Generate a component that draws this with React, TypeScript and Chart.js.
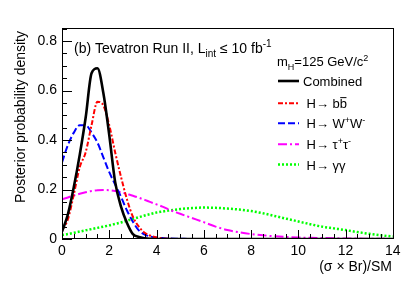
import React, { useEffect, useRef } from "react";
import { Chart, registerables } from "chart.js";

Chart.register(...registerables);

// ---- data ----
const X_GRID = [
  0, 0.25, 0.5, 0.75, 1, 1.25, 1.5, 1.75, 2, 2.25, 2.5, 2.75, 3, 3.25, 3.5, 3.75, 4, 4.25, 4.5,
  5, 5.5, 6, 6.5, 7, 7.5, 8, 8.5, 9, 9.5, 10, 10.5, 11, 11.5, 12, 12.5, 13, 13.5, 14,
];
const COMBINED = [
  0.03, 0.1, 0.21, 0.34, 0.49, 0.67, 0.69, 0.59, 0.42, 0.23, 0.13, 0.065, 0.02, 0.008, 0.003, 0.001, 0, 0, 0,
  0, 0, 0, 0, 0, 0, 0, 0, 0, 0, 0, 0, 0, 0, 0, 0, 0, 0, 0,
];
const H_BB = [
  0.035, 0.08, 0.18, 0.29, 0.35, 0.46, 0.555, 0.54, 0.46, 0.35, 0.25, 0.16, 0.09, 0.05, 0.025, 0.013, 0.006, 0.003, 0.001,
  0, 0, 0, 0, 0, 0, 0, 0, 0, 0, 0, 0, 0, 0, 0, 0, 0, 0, 0,
];
const H_WW = [
  0.31, 0.38, 0.43, 0.46, 0.46, 0.43, 0.39, 0.33, 0.27, 0.22, 0.17, 0.115, 0.07, 0.035, 0.018, 0.01, 0.006, 0.004, 0.002,
  0.001, 0, 0, 0, 0, 0, 0, 0, 0, 0, 0, 0, 0, 0, 0, 0, 0, 0, 0,
];
const H_TAUTAU = [
  0.16, 0.168, 0.176, 0.183, 0.189, 0.194, 0.197, 0.198, 0.197, 0.194, 0.189, 0.182, 0.175, 0.167, 0.158, 0.149, 0.14, 0.131, 0.12,
  0.102, 0.085, 0.068, 0.05, 0.036, 0.027, 0.02, 0.015, 0.011, 0.008, 0.006, 0.005, 0.004, 0.003, 0.002, 0.002, 0.001, 0.001, 0,
];
const H_GAMGAM = [
  0.016, 0.02, 0.025, 0.03, 0.035, 0.04, 0.045, 0.05, 0.055, 0.061, 0.067, 0.074, 0.081, 0.088, 0.095, 0.101, 0.107, 0.111, 0.115,
  0.121, 0.125, 0.127, 0.126, 0.123, 0.119, 0.113, 0.104, 0.093, 0.082, 0.071, 0.06, 0.05, 0.043, 0.036, 0.028, 0.021, 0.015, 0.01,
];
const X_TICKS = [0, 2, 4, 6, 8, 10, 12, 14];
const Y_TICKS = [0, 0.2, 0.4, 0.6, 0.8];

const FONT = '"Liberation Sans", Arial, Helvetica, sans-serif';

type Part = { t: string; m?: "sub" | "sup"; over?: boolean };

function drawRich(ctx: CanvasRenderingContext2D, x: number, y: number, parts: Part[], size: number) {
  ctx.textBaseline = "alphabetic";
  ctx.textAlign = "left";
  for (const p of parts) {
    const s = p.m ? Math.round(size * 0.68) : size;
    const dy = p.m === "sub" ? size * 0.3 : p.m === "sup" ? -size * 0.42 : 0;
    ctx.font = `${s}px ${FONT}`;
    ctx.fillText(p.t, x, y + dy);
    const w = ctx.measureText(p.t).width;
    if (p.over) {
      ctx.save();
      ctx.lineWidth = 1;
      ctx.beginPath();
      ctx.moveTo(x + 0.5, y - size * 0.82);
      ctx.lineTo(x + w - 0.5, y - size * 0.82);
      ctx.stroke();
      ctx.restore();
    }
    x += w;
  }
}

const decorPlugin = {
  id: "decor",
  afterDraw(chart: any) {
    const { ctx, chartArea: a, scales } = chart;
    const xs = scales.x;
    const ys = scales.y;
    ctx.save();
    ctx.strokeStyle = "#000";
    ctx.fillStyle = "#000";
    ctx.lineWidth = 1;
    // frame
    ctx.strokeRect(a.left + 0.5, a.top + 0.5, a.right - a.left - 1, a.bottom - a.top - 1);
    // x ticks (inside)
    ctx.beginPath();
    for (let i = 0; i < X_TICKS.length; i++) {
      const v = X_TICKS[i];
      const px = Math.round(xs.getPixelForValue(v)) + 0.5;
      ctx.moveTo(px, a.bottom);
      ctx.lineTo(px, a.bottom - 9);
      if (i < X_TICKS.length - 1) {
        const step = (X_TICKS[i + 1] - v) / 4;
        for (let k = 1; k < 4; k++) {
          const mx = Math.round(xs.getPixelForValue(v + k * step)) + 0.5;
          ctx.moveTo(mx, a.bottom);
          ctx.lineTo(mx, a.bottom - 5);
        }
      }
    }
    // y ticks (inside)
    const ystep = (Y_TICKS[1] - Y_TICKS[0]) / 4;
    for (let v = 0; v <= ys.max + 1e-9; v += ystep) {
      const py = Math.round(ys.getPixelForValue(v)) + 0.5;
      const major = Math.abs(v / (ystep * 4) - Math.round(v / (ystep * 4))) < 1e-6;
      ctx.moveTo(a.left, py);
      ctx.lineTo(a.left + (major ? 10 : 5), py);
    }
    ctx.stroke();

    // axis titles
    ctx.font = `14px ${FONT}`;
    ctx.textAlign = "right";
    ctx.textBaseline = "alphabetic";
    ctx.fillText("(\u03C3 \u00D7 Br)/SM", a.right - 2, 271);
    ctx.save();
    ctx.translate(25, a.top + 3);
    ctx.rotate(-Math.PI / 2);
    ctx.textAlign = "right";
    ctx.fillText("Posterior probability density", 0, 0);
    ctx.restore();

    // header
    drawRich(ctx, 74, 52.5, [
      { t: "(b) Tevatron Run II, L" },
      { t: "int", m: "sub" },
      { t: " \u2264 10 fb" },
      { t: "-1", m: "sup" },
    ], 14);

    // legend
    drawRich(ctx, 277, 66, [
      { t: "m" },
      { t: "H", m: "sub" },
      { t: "=125 GeV/c" },
      { t: "2", m: "sup" },
    ], 13);

    const rows: { y: number; parts: Part[]; tx: number }[] = [
      { y: 81, tx: 303, parts: [{ t: "Combined" }] },
      { y: 103.3, tx: 306.5, parts: [{ t: "H" }, { t: "\u2192 b" }, { t: "b", over: true }] },
      { y: 123.3, tx: 306.5, parts: [{ t: "H" }, { t: "\u2192 W" }, { t: "+", m: "sup" }, { t: "W" }, { t: "-", m: "sup" }] },
      { y: 144.3, tx: 306.5, parts: [{ t: "H" }, { t: "\u2192 \u03C4" }, { t: "+", m: "sup" }, { t: "\u03C4" }, { t: "-", m: "sup" }] },
      { y: 164.5, tx: 306.5, parts: [{ t: "H" }, { t: "\u2192 \u03B3\u03B3" }] },
    ];
    rows.forEach((r, i) => {
      const ds = chart.data.datasets[i];
      ctx.save();
      ctx.strokeStyle = ds.borderColor;
      ctx.lineWidth = ds.borderWidth;
      ctx.setLineDash(ds.borderDash || []);
      ctx.beginPath();
      ctx.moveTo(278, r.y);
      ctx.lineTo(299, r.y);
      ctx.stroke();
      ctx.restore();
      drawRich(ctx, r.tx, r.y + 5, r.parts, 13);
    });
    ctx.restore();
  },
};

function pts(ys: number[]) {
  return X_GRID.map((x, i) => ({ x, y: ys[i] }));
}

export default function App() {
  const ref = useRef<HTMLCanvasElement>(null);
  useEffect(() => {
    if (!ref.current) return;
    const chart = new Chart(ref.current, {
      type: "line",
      data: {
        datasets: [
          { label: "Combined", data: pts(COMBINED), borderColor: "#000000", borderWidth: 2.6, borderDash: [] },
          { label: "H→bb", data: pts(H_BB), borderColor: "#ff0000", borderWidth: 2, borderDash: [5, 2, 2, 2] },
          { label: "H→WW", data: pts(H_WW), borderColor: "#0000ff", borderWidth: 2, borderDash: [7, 3] },
          { label: "H→ττ", data: pts(H_TAUTAU), borderColor: "#ff00ff", borderWidth: 2, borderDash: [9, 3, 2, 3] },
          { label: "H→γγ", data: pts(H_GAMGAM), borderColor: "#00ff00", borderWidth: 2.5, borderDash: [2, 2] },
        ] as any,
      },
      options: {
        animation: false,
        responsive: false,
        devicePixelRatio: 1,
        layout: { padding: { left: 0, right: 21, top: 28, bottom: 0 } },
        elements: { point: { radius: 0 }, line: { cubicInterpolationMode: "monotone", fill: false } },
        plugins: { legend: { display: false }, tooltip: { enabled: false }, title: { display: false } },
        scales: {
          x: {
            type: "linear",
            min: 0,
            max: 14.05,
            grid: { display: false, drawTicks: false },
            border: { display: false },
            afterBuildTicks: (s: any) => { s.ticks = X_TICKS.map((v) => ({ value: v })); },
            afterFit: (s: any) => { s.height = 43; },
            ticks: { color: "#000", font: { family: FONT, size: 14 }, padding: 4, maxRotation: 0, autoSkip: false },
          },
          y: {
            type: "linear",
            min: 0,
            max: 0.853,
            grid: { display: false, drawTicks: false },
            border: { display: false },
            afterBuildTicks: (s: any) => { s.ticks = Y_TICKS.map((v) => ({ value: v })); },
            afterFit: (s: any) => { s.width = 62; },
            ticks: { color: "#000", font: { family: FONT, size: 14 }, padding: 5 },
          },
        },
      } as any,
      plugins: [decorPlugin],
    });
    return () => chart.destroy();
  }, []);
  return (
    <div style={{ position: "absolute", left: 0, top: 0, width: 415, height: 282, background: "#fff" }}>
      <canvas ref={ref} width={415} height={282} style={{ width: 415, height: 282, display: "block" }} />
    </div>
  );
}
